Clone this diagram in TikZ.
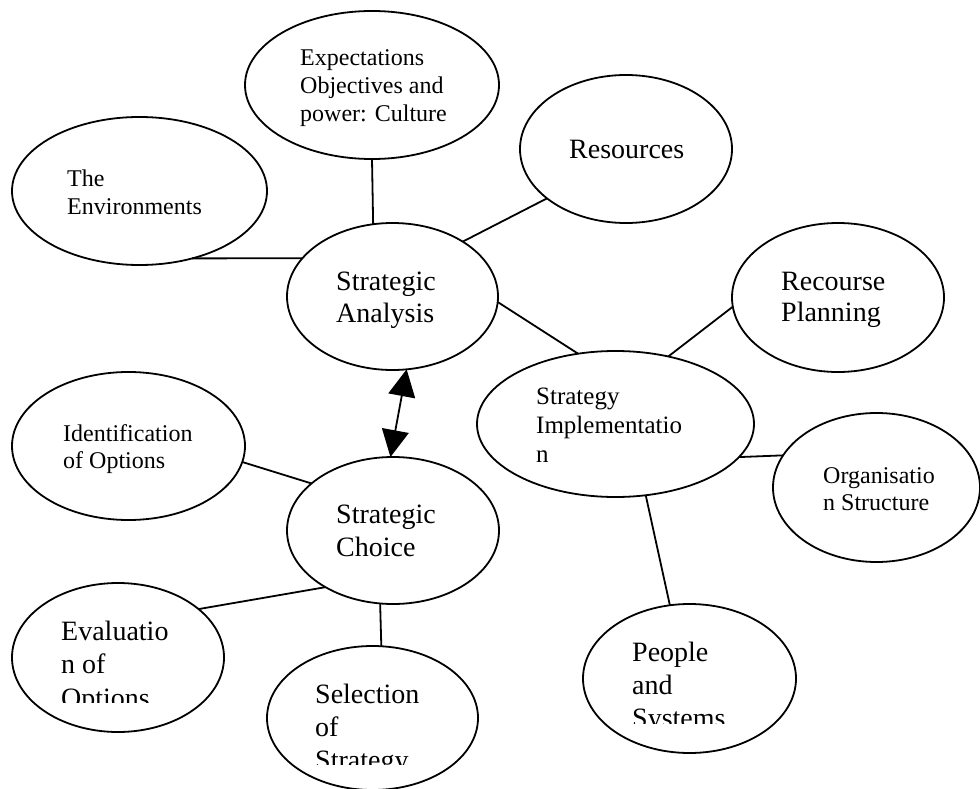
\documentclass[tikz,border=0pt]{standalone}
\usepackage{fontspec}
\setmainfont{Liberation Serif}
\usetikzlibrary{shapes.geometric,arrows.meta}
\begin{document}
\begin{tikzpicture}[x=1pt,y=-1pt,
  ell/.style={draw, ellipse, line width=1.8pt, inner sep=0pt, outer sep=0pt},
  conn/.style={line width=1.8pt},
  big/.style={anchor=base west, inner sep=0pt, font=\fontsize{28}{33}\selectfont},
  small/.style={anchor=base west, inner sep=0pt, font=\fontsize{24}{28}\selectfont},
  mid/.style={anchor=base west, inner sep=0pt, font=\fontsize{25}{29}\selectfont},
  tip/.style={{Triangle[length=27pt,width=27pt]}-{Triangle[length=27pt,width=27pt]}}]
\useasboundingbox (0,0) rectangle (980,789);

% ellipses
\node[ell, minimum width=255pt, minimum height=148pt] (env) at (139.5,191) {};
\node[ell, minimum width=254pt, minimum height=148pt] (exp) at (372,85) {};
\node[ell, minimum width=212pt, minimum height=148pt] (res) at (626,149) {};
\node[ell, minimum width=211pt, minimum height=147pt] (sa)  at (392.5,296.5) {};
\node[ell, minimum width=212pt, minimum height=149pt] (rp)  at (838,297.5) {};
\node[ell, minimum width=277pt, minimum height=146pt] (si)  at (615.5,424) {};
\node[ell, minimum width=207pt, minimum height=149pt] (org) at (876.5,487.5) {};
\node[ell, minimum width=233pt, minimum height=148pt] (id)  at (128.5,446) {};
\node[ell, minimum width=212pt, minimum height=147pt] (sc)  at (393,530.5) {};
\node[ell, minimum width=212pt, minimum height=149pt] (ev)  at (118,657.5) {};
\node[ell, minimum width=211pt, minimum height=144pt] (sel) at (372.5,718) {};
\node[ell, minimum width=213pt, minimum height=149pt] (pp)  at (689.5,678.5) {};

% connectors
\draw[conn] (env.308.6) -- (sa.157.4);
\draw[conn] (exp.270) -- (sa.105.6);
\draw[conn] (res.212.3) -- (sa.38.7);
\draw[conn] (sa.357) -- (si.118.5);
\draw[conn] (rp.185.7) -- (si.52.7);
\draw[conn] (si.345.6) -- (org.161.4);
\draw[conn] (si.293.7) -- (pp.105.9);
\draw[conn] (id.352.2) -- (sc.150.8);
\draw[conn] (sc.220.2) -- (ev.31.1);
\draw[conn] (sc.260.7) -- (sel.83.3);
\draw[conn, tip] (sa.281.2) -- (sc.92.3);

% texts
\node[small] (envA) at (67,186) {The};
\node[small] (envB) at (67,214) {Environments};
\node[small] (expA) at (300,66) {Expectations};
\node[small] (expB) at (300,94) {Objectives and};
\node[small] (expC) at (300,122) {power: Culture};
\node[big] (resA) at (569,159) {Resources};
\node[big] (saA) at (336,290) {Strategic};
\node[big] (saB) at (336,322) {Analysis};
\node[big] (rpA) at (781,290) {Recourse};
\node[big] (rpB) at (781,321) {Planning};
\node[mid] (siA) at (536,404) {Strategy};
\node[mid] (siB) at (536,433) {Implementatio};
\node[mid] (siC) at (536,462) {n};
\node[small] (orgA) at (823,483) {Organisatio};
\node[small] (orgB) at (823,510) {n Structure};
\node[small] (idA) at (63,441) {Identification};
\node[small] (idB) at (63,468) {of Options};
\node[big] (scA) at (336,523) {Strategic};
\node[big] (scB) at (336,556) {Choice};
\node[big] (evA) at (61,640) {Evaluatio};
\node[big] (evB) at (61,673) {n of};
\begin{scope}
\clip (0,0) rectangle (980,702);
\node[big] (evC) at (61,707) {Options};
\end{scope}
\node[big] (selA) at (315,703) {Selection};
\node[big] (selB) at (315,736) {of};
\begin{scope}
\clip (0,0) rectangle (980,764);
\node[big] (selC) at (315,769) {Strategy};
\end{scope}
\node[big] (ppA) at (632,661) {People};
\node[big] (ppB) at (632,694) {and};
\begin{scope}
\clip (0,0) rectangle (980,723);
\node[big] (ppC) at (632,727) {Systems};
\end{scope}
\end{tikzpicture}
\end{document}
